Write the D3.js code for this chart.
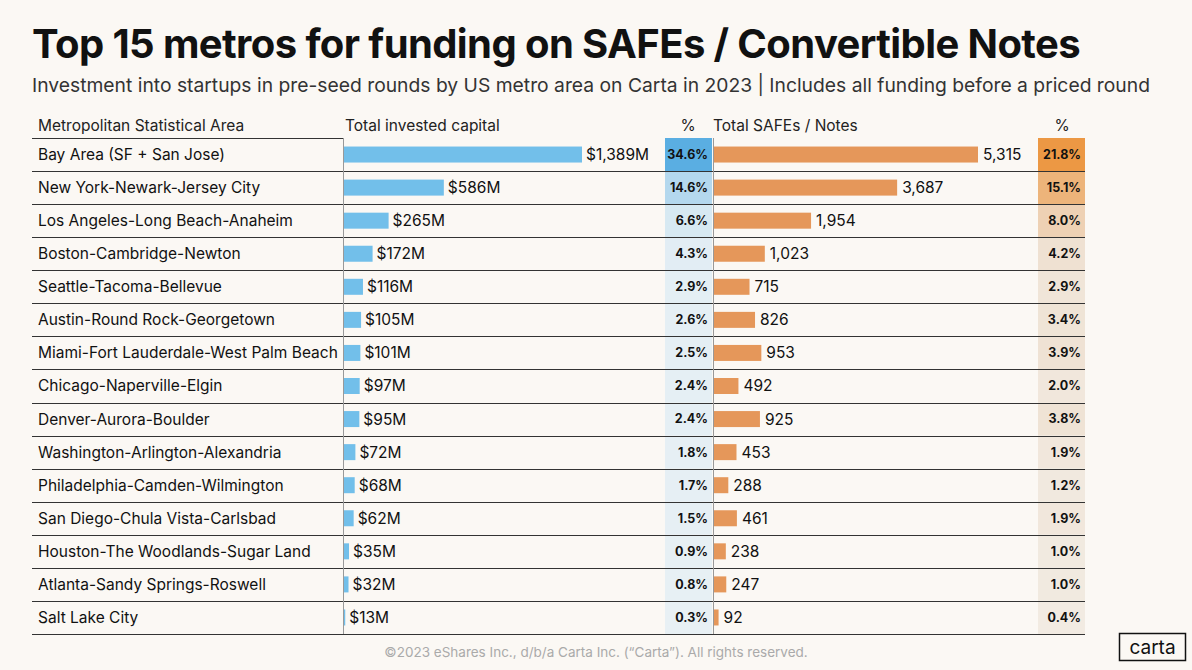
<!DOCTYPE html>
<html>
<head>
<meta charset="utf-8">
<script src="https://cdn.jsdelivr.net/npm/d3@7"></script>
<style>
  body { margin: 0; background: #fbf8f4; }
  svg { display: block; font-family: Inter, "Open Sans", sans-serif; }
</style>
</head>
<body>
<script>
// data
const metros = [
  "Bay Area (SF + San Jose)", "New York-Newark-Jersey City", "Los Angeles-Long Beach-Anaheim",
  "Boston-Cambridge-Newton", "Seattle-Tacoma-Bellevue", "Austin-Round Rock-Georgetown",
  "Miami-Fort Lauderdale-West Palm Beach", "Chicago-Naperville-Elgin", "Denver-Aurora-Boulder",
  "Washington-Arlington-Alexandria", "Philadelphia-Camden-Wilmington", "San Diego-Chula Vista-Carlsbad",
  "Houston-The Woodlands-Sugar Land", "Atlanta-Sandy Springs-Roswell", "Salt Lake City"
];
const capital = [1389, 586, 265, 172, 116, 105, 101, 97, 95, 72, 68, 62, 35, 32, 13];
const capitalPct = [34.6, 14.6, 6.6, 4.3, 2.9, 2.6, 2.5, 2.4, 2.4, 1.8, 1.7, 1.5, 0.9, 0.8, 0.3];
const safes = [5315, 3687, 1954, 1023, 715, 826, 953, 492, 925, 453, 288, 461, 238, 247, 92];
const safesPct = [21.8, 15.1, 8.0, 4.2, 2.9, 3.4, 3.9, 2.0, 3.8, 1.9, 1.2, 1.9, 1.0, 1.0, 0.4];
const headers = ["Metropolitan Statistical Area", "Total invested capital", "%", "Total SAFEs / Notes", "%"];

const width = 1192, height = 670;
const tableTop = 138, tableBottom = 634;
const left = 32, labelEnd = 343, pct1 = [665, 712], bar2Start = 713, pct2 = [1038, 1085];

const svg = d3.select("body").append("svg")
  .attr("width", width).attr("height", height);

svg.append("rect").attr("width", width).attr("height", height).attr("fill", "#fbf8f4");

svg.append("text").attr("x", 32).attr("y", 58)
  .attr("font-size", 40).attr("font-weight", 700).attr("fill", "#111")
  .attr("letter-spacing", -0.6)
  .text("Top 15 metros for funding on SAFEs / Convertible Notes");

svg.append("text").attr("x", 32).attr("y", 92)
  .attr("font-size", 19.3).attr("fill", "#333")
  .text("Investment into startups in pre-seed rounds by US metro area on Carta in 2023 | Includes all funding before a priced round");

const y = d3.scaleBand().domain(metros).range([tableTop, tableBottom]);

const x1 = d3.scaleLinear().domain([0, 1389]).range([labelEnd, 582]);
const x2 = d3.scaleLinear().domain([0, 5315]).range([bar2Start + 1, 978]);

const blue = d3.scaleLinear().domain([0, 4, 34.6]).range(["#e8f0f4", "#e3eef4", "#5aaee2"]).clamp(true);
const orange = d3.scaleLinear().domain([0, 4, 21.8]).range(["#f2ece4", "#efe2d4", "#ec9844"]).clamp(true);

// headers
const hy = 131;
const hdr = svg.append("g").attr("font-size", 15.5).attr("fill", "#222");
hdr.append("text").attr("x", 38).attr("y", hy).text(headers[0]);
hdr.append("text").attr("x", 345).attr("y", hy).text(headers[1]);
hdr.append("text").attr("x", 688).attr("y", hy).attr("text-anchor", "middle").text(headers[2]);
hdr.append("text").attr("x", 713).attr("y", hy).text(headers[3]);
hdr.append("text").attr("x", 1062).attr("y", hy).attr("text-anchor", "middle").text(headers[4]);

// percent column backgrounds
svg.append("g").selectAll("rect").data(capitalPct).join("rect")
  .attr("x", pct1[0]).attr("width", pct1[1] - pct1[0])
  .attr("y", (d, i) => y(metros[i])).attr("height", y.bandwidth())
  .attr("fill", d => blue(d));

svg.append("g").selectAll("rect").data(safesPct).join("rect")
  .attr("x", pct2[0]).attr("width", pct2[1] - pct2[0])
  .attr("y", (d, i) => y(metros[i])).attr("height", y.bandwidth())
  .attr("fill", d => orange(d));

// row lines
const lines = svg.append("g").attr("stroke", "#333").attr("stroke-width", 1);
lines.append("line").attr("x1", left).attr("x2", labelEnd).attr("y1", tableTop + 0.5).attr("y2", tableTop + 0.5);
metros.forEach((m, i) => {
  const yy = Math.round(y(m) + y.bandwidth()) + 0.5;
  lines.append("line").attr("x1", left).attr("x2", pct2[1]).attr("y1", yy).attr("y2", yy);
});

// vertical dividers
svg.append("line").attr("x1", labelEnd + 0.5).attr("x2", labelEnd + 0.5)
  .attr("y1", tableTop).attr("y2", tableBottom).attr("stroke", "#999");
svg.append("line").attr("x1", bar2Start + 0.5).attr("x2", bar2Start + 0.5)
  .attr("y1", tableTop).attr("y2", tableBottom).attr("stroke", "#999");

const barH = 16;
const rows = svg.append("g").selectAll("g").data(metros).join("g")
  .attr("transform", d => `translate(0,${y(d) + y.bandwidth() / 2})`);

rows.append("text").attr("x", 38).attr("dy", "0.35em")
  .attr("font-size", 15.5).attr("fill", "#111").text(d => d);

rows.append("rect")
  .attr("x", x1(0) + 1).attr("y", -barH / 2).attr("height", barH)
  .attr("width", (d, i) => Math.max(1, x1(capital[i]) - x1(0) - 1))
  .attr("fill", "#72bfea");
rows.append("text")
  .attr("x", (d, i) => x1(capital[i]) + 4).attr("dy", "0.35em")
  .attr("font-size", 15.5).attr("fill", "#111")
  .text((d, i) => "$" + d3.format(",")(capital[i]) + "M");

rows.append("text").attr("x", pct1[1] - 4).attr("dy", "0.35em")
  .attr("text-anchor", "end").attr("font-size", 12.5).attr("font-weight", 700).attr("fill", "#111")
  .text((d, i) => capitalPct[i].toFixed(1) + "%");

rows.append("rect")
  .attr("x", x2(0)).attr("y", -barH / 2).attr("height", barH)
  .attr("width", (d, i) => x2(safes[i]) - x2(0))
  .attr("fill", "#e5975a");
rows.append("text")
  .attr("x", (d, i) => x2(safes[i]) + 5).attr("dy", "0.35em")
  .attr("font-size", 15.5).attr("fill", "#111")
  .text((d, i) => d3.format(",")(safes[i]));

rows.append("text").attr("x", pct2[1] - 4).attr("dy", "0.35em")
  .attr("text-anchor", "end").attr("font-size", 12.5).attr("font-weight", 700).attr("fill", "#111")
  .text((d, i) => safesPct[i].toFixed(1) + "%");

// footer
svg.append("text").attr("x", 596).attr("y", 657).attr("text-anchor", "middle")
  .attr("font-size", 13.5).attr("fill", "#aaa")
  .text("©2023 eShares Inc., d/b/a Carta Inc. (“Carta”). All rights reserved.");

svg.append("rect").attr("x", 1119.5).attr("y", 633.5).attr("width", 66).attr("height", 27)
  .attr("fill", "none").attr("stroke", "#111").attr("stroke-width", 1.5);
svg.append("text").attr("x", 1152.5).attr("y", 653.5).attr("text-anchor", "middle")
  .attr("font-size", 19).attr("fill", "#111").text("carta");
</script>
</body>
</html>
